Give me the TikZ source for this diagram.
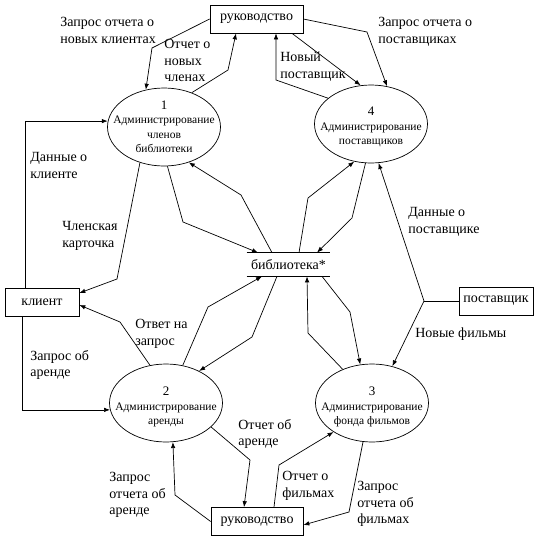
\documentclass[tikz,border=0pt]{standalone}
\usepackage{fontspec}
\setmainfont{Liberation Serif}
\usetikzlibrary{shapes.geometric,arrows.meta}
\begin{document}
\begin{tikzpicture}[x=1pt,y=-1pt,
  line width=0.7pt,
  box/.style={draw, minimum width=#1, minimum height=28pt, inner sep=0pt, font=\fontsize{14}{16}\selectfont},
  proc/.style={draw, ellipse, minimum width=113pt, minimum height=78pt, inner sep=0pt},
  ptext/.style={align=center, font=\fontsize{11.5}{14.5}\selectfont, inner sep=0pt},
  lbl/.style={anchor=north west, align=left, inner sep=0pt, font=\fontsize{14}{16.5}\selectfont},
  flow/.style={-{Latex[length=6pt,width=4.5pt]}},
]
\useasboundingbox (0,0) rectangle (542,539);

% boxes
\node[box=93pt] (ruk1) at (256.5,19) {руководство};
\node[box=74pt] (kl) at (42,302) {клиент};
\node[box=74pt] (post) at (496,301) {поставщик};
\node[box=92pt] (ruk2) at (257,521.5) {руководство};

% library store
\node[minimum width=83pt, minimum height=23pt, inner sep=0pt, font=\fontsize{14}{16}\selectfont] (lib) at (288.5,264.5) {библиотека*};
\draw (lib.north west) -- (lib.north east);
\draw (lib.south west) -- (lib.south east);

% processes
\node[proc] (e1) at (164,127) {};
\node[ptext] (t1) at (e1.center) {{\fontsize{13}{14}\selectfont 1}\\Администрирование\\членов\\библиотеки};
\node[proc] (e4) at (371,124) {};
\node[ptext] (t4) at (371,127) {{\fontsize{13}{14}\selectfont 4}\\Администрирование\\поставщиков};
\node[proc] (e2) at (166,403) {};
\node[ptext] (t2) at (166,407) {{\fontsize{13}{14}\selectfont 2}\\Администрирование\\аренды};
\node[proc] (e3) at (372,403) {};
\node[ptext] (t3) at (372,407) {{\fontsize{13}{14}\selectfont 3}\\Администрирование\\фонда фильмов};

% top flows
\draw[flow] (ruk1.west) -- (152,48) -- (e1.116);
\draw[flow] (e1.51) -- (228,70) -- (236,0 |- ruk1.south);
\draw[flow] (ruk1.east) -- (367,32) -- (e4.67);
\draw[flow] (292,0 |- ruk1.south) -- (e4.105);
\draw[flow] (e4.149) -- (276,80) -- (276,0 |- ruk1.south);

% client flows
\draw[flow] (25,0 |- kl.north) |- (e1.174);
\draw[flow] (e1.236) -- (117,279) -- (kl.east |- 0,293);
\draw[flow] (e2.113) -- (120,322) -- (kl.east |- 0,305);
\draw[flow] (22,0 |- kl.south) |- (e2.187);

% library flows
\draw[flow] (e1.275) -- (183,222) -- (258,0 |- lib.north);
\draw[flow] (272,0 |- lib.north) -- (241,195) -- (e1.305);
\draw[flow] (299,0 |- lib.north) -- (308,198) -- (e4.246);
\draw[flow] (e4.262) -- (352,218) -- (317,0 |- lib.north);
\draw[flow] (322,0 |- lib.south) -- (350,312) -- (e3.107);
\draw[flow] (e3.131) -- (308,333) -- (307,0 |- lib.south);
\draw[flow] (277,0 |- lib.south) -- (252,337) -- (e2.44);
\draw[flow] (e2.66) -- (208,307) -- (262,0 |- lib.south);

% supplier flows
\coordinate (j) at (424,301);
\draw (post.west) -- (j);
\draw[flow] (j) -- (e4.281);
\draw[flow] (j) -- (e3.61);

% bottom flows
\draw[flow] (e2.332) -- (250,460) -- (244,0 |- ruk2.north);
\draw[flow] (ruk2.west) -- (175,495) -- (e2.280);
\draw[flow] (274,0 |- ruk2.north) -- (279,465) -- (e3.217);
\draw[flow] (e3.257) -- (349,512) -- (ruk2.east |- 0,525);

% labels
\node[lbl] (la) at (60,17) {Запрос отчета о\\новых клиентах};
\node[lbl] (lb) at (164,39) {Отчет о\\новых\\членах};
\node[lbl] (lc) at (378,17) {Запрос отчета о\\поставщиках};
\node[lbl] (ld) at (280,52) {Новый\\поставщик};
\node[lbl] (le) at (30,152) {Данные о\\клиенте};
\node[lbl] (lf) at (62,221) {Членская\\карточка};
\node[lbl] (lg) at (408,207) {Данные о\\поставщике};
\node[lbl] (lh) at (415,327) {Новые фильмы};
\node[lbl] (li) at (135,319) {Ответ на\\запрос};
\node[lbl] (lj) at (30,350) {Запрос об\\аренде};
\node[lbl] (lk) at (238,419) {Отчет об\\аренде};
\node[lbl] (ll) at (109,472) {Запрос\\отчета об\\аренде};
\node[lbl] (lm) at (282,471) {Отчет о\\фильмах};
\node[lbl] (ln) at (357,481) {Запрос\\отчета об\\фильмах};
\end{tikzpicture}
\end{document}
